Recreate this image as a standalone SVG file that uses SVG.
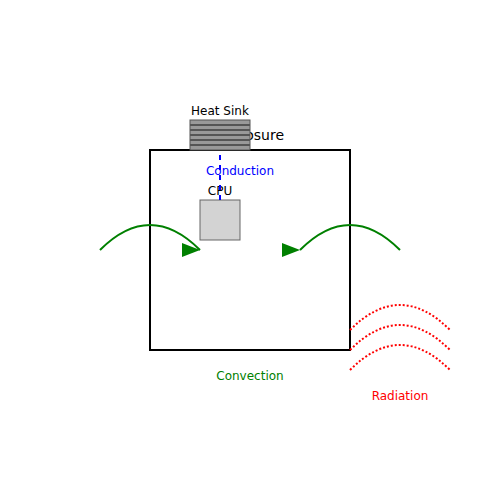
<svg xmlns="http://www.w3.org/2000/svg" width="500" height="500" viewBox="0 0 500 500">
<style>
text{font-family:"DejaVu Sans",sans-serif;font-size:12px;text-anchor:middle}
.conv{fill:none;stroke:green;stroke-width:2}
.rad{fill:none;stroke:red;stroke-width:2;stroke-dasharray:2,2}
.fin{stroke:#555;stroke-width:2}
</style>
<defs>
<marker id="arr" viewBox="0 0 10 10" refX="10" refY="5" markerWidth="9" markerHeight="7" markerUnits="userSpaceOnUse" preserveAspectRatio="none">
<path d="M0,0 L10,5 L0,10 z" fill="green"/>
</marker>
</defs>
<rect width="500" height="500" fill="#fff"/>
<g id="enclosure">
<rect x="150" y="150" width="200" height="200" fill="none" stroke="#000" stroke-width="2"/>
<text x="250" y="140" style="font-size:14px">Enclosure</text>
</g>
<g id="heatsink">
<rect x="190" y="120" width="60" height="30" fill="#999" stroke="#555" stroke-width="1"/>
<line class="fin" x1="190" y1="125" x2="250" y2="125"/>
<line class="fin" x1="190" y1="130" x2="250" y2="130"/>
<line class="fin" x1="190" y1="135" x2="250" y2="135"/>
<line class="fin" x1="190" y1="140" x2="250" y2="140"/>
<line class="fin" x1="190" y1="145" x2="250" y2="145"/>
<text x="220" y="115">Heat Sink</text>
</g>
<g id="cpu">
<text x="220" y="195">CPU</text>
<rect x="200" y="200" width="40" height="40" fill="lightgray" stroke="#666" stroke-width="1"/>
</g>
<g id="connectors">
<line x1="220" y1="155" x2="220" y2="200" stroke="blue" stroke-width="2" stroke-dasharray="5,5"/>
<text x="240" y="175" fill="blue">Conduction</text>
<path class="conv" d="M100,250 Q150,200 200,250"/>
<path d="M182,243 L200,250 L182,257 z" fill="green"/>
<path class="conv" d="M300,250 Q350,200 400,250"/>
<path d="M282,243 L300,250 L282,257 z" fill="green"/>
<text x="250" y="380" fill="green">Convection</text>
<path class="rad" d="M350,330 Q400,280 450,330"/>
<path class="rad" d="M350,350 Q400,300 450,350"/>
<path class="rad" d="M350,370 Q400,320 450,370"/>
<text x="400" y="400" fill="red">Radiation</text>
</g>
</svg>
